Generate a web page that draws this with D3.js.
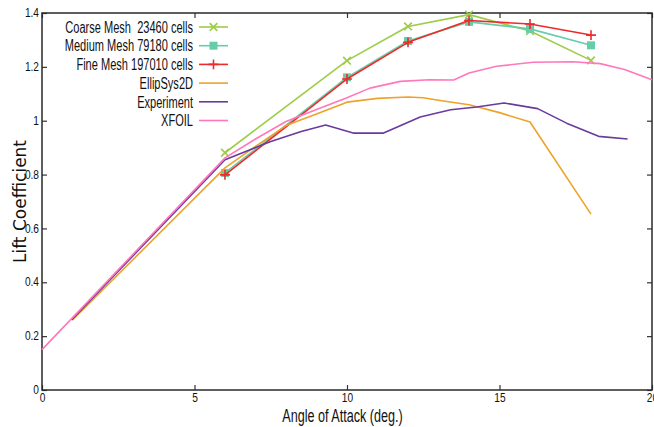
<!DOCTYPE html>
<html>
<head>
<meta charset="utf-8">
<script src="https://cdn.jsdelivr.net/npm/d3@7"></script>
<style>
  html, body { margin: 0; padding: 0; background: #fff; }
  svg { display: block; }
  .cond { font-family: "Liberation Sans", Arial, sans-serif; }
</style>
</head>
<body>
<svg id="chart" width="654" height="427"></svg>
<script>
// Mesh-study angles of attack (deg.) and lift coefficients
const meshAlpha = [6, 10, 12, 14, 16, 18];
const coarseCl  = [0.881, 1.223, 1.350, 1.394, 1.333, 1.224];
const mediumCl  = [0.806, 1.161, 1.296, 1.367, 1.341, 1.280];
const fineCl    = [0.799, 1.155, 1.291, 1.372, 1.359, 1.318];

// EllipSys2D reference computation
const ellipAlpha = [1, 6, 7, 8, 9, 10, 11, 12, 12.5, 13, 14, 15, 16, 18];
const ellipCl    = [0.26, 0.825, 0.905, 0.982, 1.025, 1.069, 1.083, 1.088, 1.085, 1.076, 1.059, 1.030, 0.995, 0.653];

// Wind-tunnel experiment
const expAlpha = [0.97, 6, 7.5, 8.5, 9.3, 10.2, 11.2, 12.4, 13.4, 14.25, 15.15, 16.25, 17.2, 18.25, 19.2];
const expCl    = [0.26, 0.855, 0.923, 0.960, 0.984, 0.954, 0.954, 1.014, 1.041, 1.051, 1.066, 1.045, 0.991, 0.942, 0.932];

// XFOIL prediction
const xfoilAlpha = [0, 6, 7, 8, 9, 10, 10.75, 11.75, 12.7, 13.5, 14, 14.9, 16.1, 17.4, 18.3, 19.1, 20];
const xfoilCl    = [0.15, 0.862, 0.932, 0.997, 1.042, 1.085, 1.121, 1.146, 1.152, 1.151, 1.177, 1.202, 1.217, 1.219, 1.212, 1.19, 1.152];

// Axis ticks
const xTicks = [0, 5, 10, 15, 20];
const yTicks = [0, 0.2, 0.4, 0.6, 0.8, 1, 1.2, 1.4];

const zip = (xs, ys) => xs.map((x, i) => [x, ys[i]]);

const series = [
  { name: "Coarse Mesh  23460 cells",  color: "#9ccc48", pts: zip(meshAlpha, coarseCl), marker: "times" },
  { name: "Medium Mesh 79180 cells",   color: "#66cdaa", pts: zip(meshAlpha, mediumCl), marker: "square" },
  { name: "Fine Mesh 197010 cells",    color: "#ee2a2a", pts: zip(meshAlpha, fineCl),   marker: "plus" },
  { name: "EllipSys2D",                color: "#eea22a", pts: zip(ellipAlpha, ellipCl), marker: null },
  { name: "Experiment",                color: "#6a3a9c", pts: zip(expAlpha, expCl),     marker: null },
  { name: "XFOIL",                     color: "#ff78bc", pts: zip(xfoilAlpha, xfoilCl), marker: null }
];

const svg = d3.select("#chart");
const plotLeft = 42, plotRight = 652, plotTop = 13, plotBottom = 390;

const x = d3.scaleLinear().domain([0, 20]).range([plotLeft, plotRight]);
const y = d3.scaleLinear().domain([0, 1.4]).range([plotBottom, plotTop]);

const fmt = d => String(+d.toFixed(1));

// Squeeze text horizontally to a narrow face
function condense(sel, k) {
  sel.each(function () {
    const w = this.getComputedTextLength();
    d3.select(this).attr("textLength", w * k).attr("lengthAdjust", "spacingAndGlyphs");
  });
}

// Axes with inward ticks on all four sides
const gx = svg.append("g").attr("transform", `translate(0,${plotBottom})`)
  .call(d3.axisBottom(x).tickValues(xTicks).tickFormat(fmt).tickSizeInner(-5).tickSizeOuter(0).tickPadding(3));
const gxTop = svg.append("g").attr("transform", `translate(0,${plotTop})`)
  .call(d3.axisTop(x).tickValues(xTicks).tickFormat("").tickSizeInner(-5).tickSizeOuter(0));
const gy = svg.append("g").attr("transform", `translate(${plotLeft},0)`)
  .call(d3.axisLeft(y).tickValues(yTicks).tickFormat(fmt).tickSizeInner(-5).tickSizeOuter(0).tickPadding(3));
const gyR = svg.append("g").attr("transform", `translate(${plotRight},0)`)
  .call(d3.axisRight(y).tickValues(yTicks).tickFormat("").tickSizeInner(-5).tickSizeOuter(0));

[gx, gxTop, gy, gyR].forEach(g => {
  g.select(".domain").remove();
  g.attr("font-family", null).attr("font-size", null);
  g.selectAll(".tick line").attr("stroke", "#333").attr("stroke-width", 1.2);
  g.selectAll(".tick text").attr("class", "cond").attr("font-size", 13).attr("fill", "#111");
});
gy.selectAll(".tick text").attr("dy", "0.28em");
gx.selectAll(".tick text").attr("dy", "0.68em");
condense(gx.selectAll(".tick text"), 0.78);
condense(gy.selectAll(".tick text"), 0.78);

// Plot frame
svg.append("rect")
  .attr("x", plotLeft).attr("y", plotTop)
  .attr("width", plotRight - plotLeft).attr("height", plotBottom - plotTop)
  .attr("fill", "none").attr("stroke", "#2a2a2a").attr("stroke-width", 1.5);

const line = d3.line().x(d => x(d[0])).y(d => y(d[1]));

const markerPath = (type) => {
  if (type === "times") return d3.symbol().type(d3.symbolTimes).size(40)();
  if (type === "plus") return d3.symbol().type(d3.symbolPlus).size(34)();
  if (type === "square") return d3.symbol().type(d3.symbolSquare).size(64)();
  return null;
};

const plot = svg.append("g");
series.forEach(s => {
  plot.append("path")
    .attr("d", line(s.pts))
    .attr("fill", "none")
    .attr("stroke", s.color)
    .attr("stroke-width", 1.6)
    .attr("stroke-linejoin", "round");
  if (s.marker) {
    plot.selectAll(null).data(s.pts).enter().append("path")
      .attr("d", markerPath(s.marker))
      .attr("transform", d => `translate(${x(d[0])},${y(d[1])})`)
      .attr("fill", s.marker === "square" ? s.color : "none")
      .attr("stroke", s.color)
      .attr("stroke-width", s.marker === "square" ? 0 : 1.6);
  }
});

// Legend
const legend = svg.append("g");
const rowY = i => 27 + i * 18.7;
series.forEach((s, i) => {
  const yy = rowY(i);
  const t = legend.append("text")
    .attr("class", "cond")
    .attr("x", 193).attr("y", yy)
    .attr("dy", "0.36em")
    .attr("text-anchor", "end")
    .attr("font-size", 16)
    .attr("fill", "#111")
    .attr("xml:space", "preserve")
    .style("white-space", "pre")
    .text(s.name);
  condense(t, 0.69);
  legend.append("line")
    .attr("x1", 199).attr("x2", 228).attr("y1", yy).attr("y2", yy)
    .attr("stroke", s.color).attr("stroke-width", 1.6);
  if (s.marker) {
    legend.append("path")
      .attr("d", markerPath(s.marker))
      .attr("transform", `translate(213.5,${yy})`)
      .attr("fill", s.marker === "square" ? s.color : "none")
      .attr("stroke", s.color)
      .attr("stroke-width", s.marker === "square" ? 0 : 1.6);
  }
});

// Axis titles
const xTitle = svg.append("text")
  .attr("class", "cond")
  .attr("x", 342.5).attr("y", 421.5)
  .attr("text-anchor", "middle")
  .attr("font-size", 17.5)
  .attr("fill", "#111")
  .text("Angle of Attack (deg.)");
condense(xTitle, 0.72);

svg.append("text")
  .attr("transform", "translate(25.5,201.5) rotate(-90)")
  .attr("text-anchor", "middle")
  .attr("font-family", "DejaVu Sans, sans-serif")
  .attr("font-size", 17)
  .attr("fill", "#111")
  .text("Lift Coefficient");
</script>
</body>
</html>
